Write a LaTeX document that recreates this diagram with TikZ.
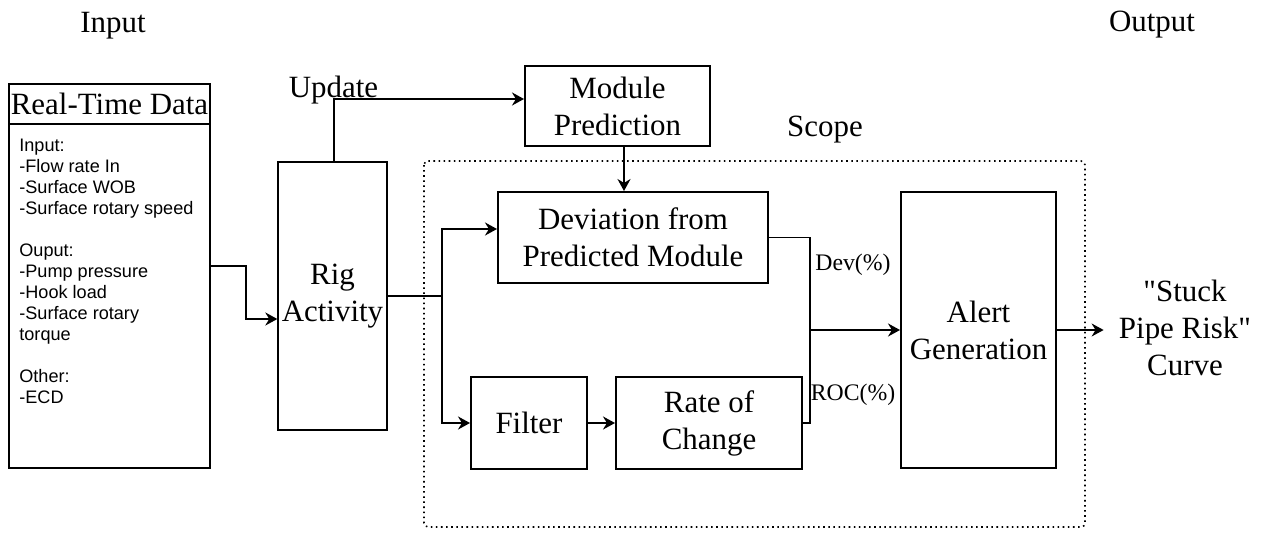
\documentclass[tikz,border=0pt]{standalone}
\usepackage{fontspec}
\setmainfont{Liberation Serif}[Ligatures=TeXOff]
\newfontfamily\listsans{Liberation Sans}
\usetikzlibrary{arrows.meta}

\begin{document}
\begin{tikzpicture}[
  box/.style={draw, line width=1.1pt, align=center, inner sep=2pt, font=\fontsize{17.6}{21}\selectfont},
  lbl/.style={font=\fontsize{17.6}{21}\selectfont, align=center},
  pct/.style={font=\fontsize{13.5}{16}\selectfont},
  flow/.style={line width=1.1pt, -{Stealth[length=0.24cm,width=0.26cm]}},
  wire/.style={line width=1.1pt}
]
\useasboundingbox (0,0) rectangle (25.28,-10.68);
\node[box, minimum width=4.02cm, minimum height=7.68cm] (rtd) at (2.19,-5.52) {};
\node[box, inner sep=0pt, minimum width=4.02cm, minimum height=0.80cm, anchor=north] (rtdtitle) at (rtd.north) {Real-Time Data};
\node[anchor=north west, align=left, inner sep=0pt, font=\listsans\fontsize{10.3}{11.95}\selectfont] (rtdlist) at ([shift={(0.22,-0.28)}]rtdtitle.south west) {Input:\\-Flow rate In\\-Surface WOB\\-Surface rotary speed\\[11.95pt]Ouput:\\-Pump pressure\\-Hook load\\-Surface rotary\\torque\\[11.95pt]Other:\\-ECD};
\node[box, minimum width=2.14cm, minimum height=5.36cm] (rig) at (6.65,-5.92) {Rig\\Activity};
\node[box, minimum width=3.70cm, minimum height=1.60cm] (modpred) at (12.35,-2.12) {Module\\Prediction};
\node[box, minimum width=5.40cm, minimum height=1.82cm] (deviation) at (12.66,-4.75) {Deviation from\\Predicted Module};
\node[box, minimum width=2.32cm, minimum height=1.84cm] (filter) at (10.58,-8.46) {Filter};
\node[box, minimum width=3.72cm, minimum height=1.84cm] (rate) at (14.18,-8.46) {Rate of\\Change};
\node[box, minimum width=3.10cm, minimum height=5.52cm] (alert) at (19.57,-6.60) {Alert\\Generation};
\draw[dotted, line width=0.9pt, rounded corners=0.08cm] (8.48,-3.22) rectangle (21.70,-10.54);
\node[lbl] (inlbl) at (2.26,-0.51) {Input};
\node[lbl] (outlbl) at (23.04,-0.50) {Output};
\node[lbl] (scopelbl) at (16.50,-2.60) {Scope};
\node[lbl] (updlbl) at (6.67,-1.80) {Update};
\node[lbl, inner sep=0.3cm] (curve) at (23.70,-6.56) {"Stuck\\Pipe Risk"\\Curve};
\node[pct] (devlbl) at (17.06,-5.30) {Dev(\%)};
\node[pct] (roclbl) at (17.06,-7.90) {ROC(\%)};
\draw[flow] ([yshift=0.20cm]rtd.east) -- ++(0.70,0) |- ([yshift=-0.46cm]rig.west);
\draw[flow] ([xshift=0.03cm]rig.north) |- ([yshift=0.14cm]modpred.west);
\draw[flow] ([xshift=0.13cm]modpred.south) -- ([xshift=0.13cm]modpred.south |- deviation.north);
\path (rig.east) ++(1.08,0) coordinate (split);
\draw[wire] (rig.east) -- (split);
\draw[flow] (split) |- ([yshift=0.17cm]deviation.west);
\draw[flow] (split) |- (filter.west);
\draw[flow] (filter) -- (rate);
\path (deviation.east) ++(0.82,0) coordinate (join);
\draw[wire] (deviation.east) -- (join) |- (rate.east);
\draw[flow] (join |- alert.west) -- (alert.west);
\draw[flow, line width=0.7pt] (alert.east) -- (alert.east -| curve.west);
\end{tikzpicture}
\end{document}
